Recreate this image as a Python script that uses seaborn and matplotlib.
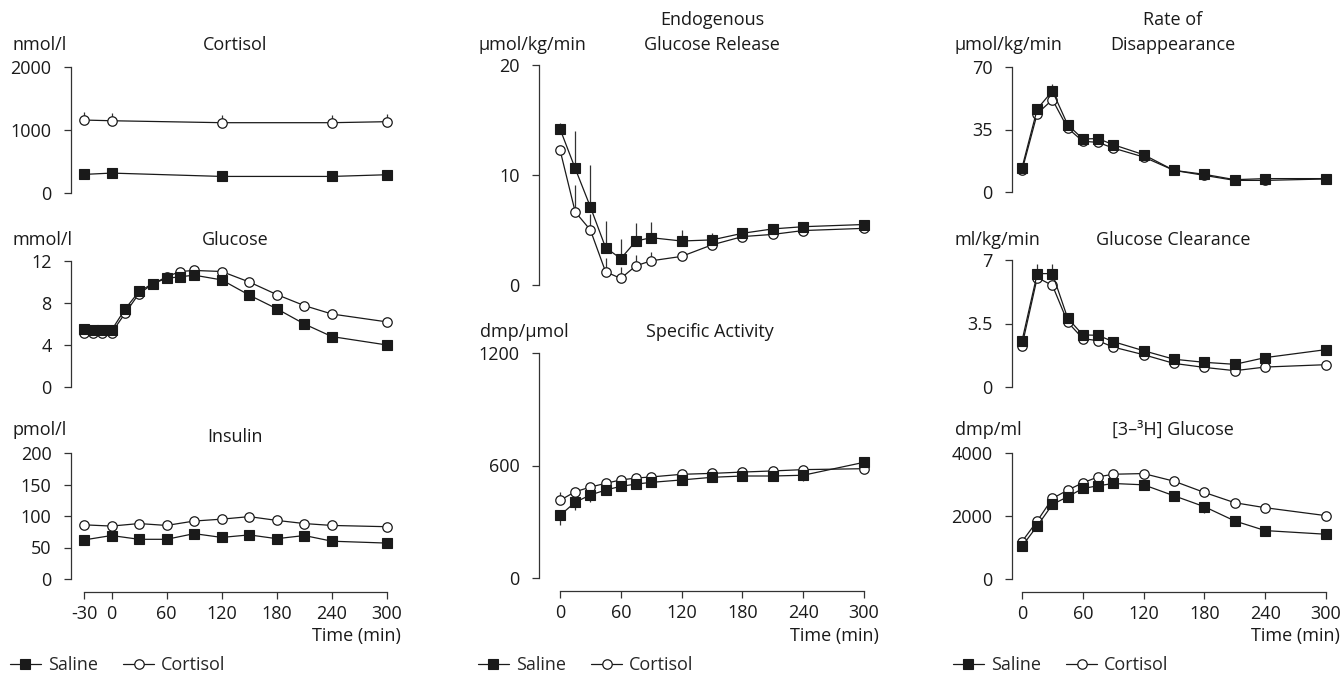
import numpy as np
import pandas as pd
import matplotlib
matplotlib.use("Agg")
import matplotlib.pyplot as plt
import seaborn as sns

# ---- data -------------------------------------------------------------
cort_t = [-30, 0, 120, 240, 300]
cort_sal = [295, 316, 263, 263, 290]
cort_cor = [1158, 1147, 1116, 1116, 1132]
cort_cor_se = [130, 130, 120, 120, 120]

gluc_t = [-30, -20, -10, 0, 15, 30, 45, 60, 75, 90, 120, 150, 180, 210, 240, 300]
gluc_sal = [5.55, 5.4, 5.4, 5.4, 7.45, 9.1, 9.85, 10.35, 10.5, 10.65, 10.2, 8.75, 7.45, 6.0, 4.8, 4.0]
gluc_cor = [5.15, 5.15, 5.15, 5.15, 7.05, 8.9, 9.8, 10.5, 11.0, 11.1, 11.0, 10.0, 8.8, 7.75, 6.95, 6.2]

ins_t = [-30, 0, 30, 60, 90, 120, 150, 180, 210, 240, 300]
ins_sal = [62, 69, 63, 63, 72, 66, 70, 64, 69, 60, 57]
ins_cor = [86, 84, 88, 85, 92, 95, 99, 93, 88, 85, 83]

tt = [0, 15, 30, 45, 60, 75, 90, 120, 150, 180, 210, 240, 300]

egr_sal = [14.2, 10.6, 7.1, 3.4, 2.4, 4.0, 4.3, 4.0, 4.1, 4.7, 5.1, 5.3, 5.5]
egr_sal_se = [0.55, 3.4, 3.8, 2.4, 1.8, 1.6, 1.4, 1.0, 0.6, 0.45, 0.3, 0.2, 0.1]
egr_cor = [12.3, 6.65, 5.0, 1.2, 0.6, 1.75, 2.2, 2.6, 3.65, 4.4, 4.6, 4.95, 5.15]
egr_cor_se = [0.3, 2.45, 1.5, 1.3, 1.0, 1.0, 0.8, 0.3, 0.2, 0.1, 0.1, 0.1, 0.1]

sa_sal = [334, 404, 443, 469, 489, 501, 510, 523, 537, 544, 544, 548, 617]
sa_sal_se = [50, 40, 39, 25, 20, 15, 15, 15, 20, 20, 20, 30, 0]
sa_cor = [414, 460, 485, 505, 523, 533, 539, 553, 558, 565, 571, 578, 583]
sa_cor_se = [43, 0, 0, 0, 0, 0, 0, 0, 0, 0, 0, 0, 0]

rd_sal = [13.6, 46.5, 56.6, 37.7, 29.7, 29.9, 26.5, 20.9, 12.1, 9.9, 6.9, 7.5, 7.5]
rd_sal_se = [0, 2.5, 4.0, 0, 0, 0, 0, 0, 0, 0, 0, 0, 0]
rd_cor = [12.1, 43.9, 51.7, 35.8, 28.4, 27.8, 24.6, 19.6, 12.1, 9.3, 6.5, 6.5, 7.3]

gc_sal = [2.55, 6.25, 6.25, 3.8, 2.87, 2.85, 2.5, 2.0, 1.53, 1.36, 1.25, 1.62, 2.06]
gc_sal_se = [0, 0.55, 0.55, 0, 0, 0, 0, 0, 0, 0, 0, 0, 0]
gc_cor = [2.28, 6.03, 5.6, 3.58, 2.67, 2.55, 2.2, 1.78, 1.3, 1.08, 0.9, 1.1, 1.23]

h3_sal = [1042, 1684, 2368, 2610, 2874, 2958, 3032, 2990, 2642, 2295, 1842, 1537, 1421]
h3_sal_se = [0, 120, 150, 0, 120, 150, 150, 120, 150, 200, 150, 120, 0]
h3_cor = [1189, 1842, 2558, 2821, 3053, 3242, 3326, 3347, 3105, 2747, 2421, 2263, 2011]

# ---- style ------------------------------------------------------------
sns.set_theme(style="ticks")
plt.rcParams["font.family"] = ["Open Sans", "DejaVu Sans"]
FS = 13
plt.rcParams["font.size"] = FS
INK = "#1a1a1a"

W, H = 1344, 677
fig = plt.figure(figsize=(W / 100, H / 100), dpi=100)


def add_ax(l, r, top, bot, xlim, ylim):
    ax = fig.add_axes([l / W, 1 - bot / H, (r - l) / W, (bot - top) / H])
    ax.set_xlim(*xlim)
    ax.set_ylim(*ylim)
    ax.patch.set_alpha(0)
    for s in ["top", "right", "bottom"]:
        ax.spines[s].set_visible(False)
    ax.spines["left"].set_bounds(*ylim)
    ax.spines["left"].set_color("#333333")
    ax.spines["left"].set_linewidth(0.9)
    ax.tick_params(axis="y", length=5, width=0.9, color="#333333", pad=9,
                   labelsize=FS, labelcolor=INK)
    ax.set_xticks([])
    return ax


def series(ax, t, y, kind, se=None, direction=1):
    df = pd.DataFrame({"t": t, "y": y})
    if kind == "sal":
        kw = dict(marker="s", markersize=6.5, markerfacecolor=INK,
                  markeredgecolor=INK, markeredgewidth=0.8, zorder=4)
    else:
        kw = dict(marker="o", markersize=6.8, markerfacecolor="white",
                  markeredgecolor=INK, markeredgewidth=0.9, zorder=3)
    if se is not None:
        yy = np.array(y, dtype=float)
        ee = np.array(se, dtype=float)
        m = ee > 0
        ax.vlines(np.array(t)[m], yy[m], yy[m] + direction * ee[m],
                  color="#333333", lw=0.9, zorder=2, clip_on=False)
    sns.lineplot(data=df, x="t", y="y", ax=ax, color=INK, lw=0.9,
                 errorbar=None, sort=False, clip_on=False, **kw)
    ax.set_xlabel("")
    ax.set_ylabel("")


def xaxis(ax, ticks, lo):
    ax.spines["bottom"].set_visible(True)
    ax.spines["bottom"].set_position(("outward", 9))
    ax.spines["bottom"].set_bounds(lo, 300)
    ax.spines["bottom"].set_color("#333333")
    ax.spines["bottom"].set_linewidth(0.9)
    ax.set_xticks(ticks)
    ax.set_xticklabels([str(v) for v in ticks])
    ax.tick_params(axis="x", length=5, width=0.9, color="#333333", pad=4.5,
                   labelsize=FS, labelcolor=INK, bottom=True)


def label(x, y, s, ha="left"):
    fig.text(x / W, 1 - y / H, s, ha=ha, va="center", fontsize=FS, color=INK)


# ---- left column ------------------------------------------------------
LX = (-44.1, 305.4)
ax = add_ax(71, 392, 67, 193, LX, (0, 2000))
series(ax, cort_t, cort_cor, "cor", cort_cor_se, 1)
series(ax, cort_t, cort_sal, "sal")
ax.set_yticks([0, 1000, 2000])
label(12, 45, "nmol/l")
label(235, 45, "Cortisol", "center")

ax = add_ax(71, 392, 261, 387, LX, (0, 12))
series(ax, gluc_t, gluc_cor, "cor")
series(ax, gluc_t, gluc_sal, "sal")
ax.set_yticks([0, 4, 8, 12])
label(12, 240, "mmol/l")
label(235, 240, "Glucose", "center")

ax = add_ax(71, 392, 453, 579, LX, (0, 200))
series(ax, ins_t, ins_cor, "cor")
series(ax, ins_t, ins_sal, "sal")
ax.set_yticks([0, 50, 100, 150, 200])
xaxis(ax, [-30, 0, 60, 120, 180, 240, 300], -30)
label(12, 430, "pmol/l")
label(235, 437, "Insulin", "center")
label(401, 636, "Time (min)", "right")
left_bottom = ax

# ---- middle column ----------------------------------------------------
MX = (-20.7, 304.9)
ax = add_ax(539, 869, 65, 285, MX, (0, 20))
series(ax, tt, egr_cor, "cor", egr_cor_se, 1)
series(ax, tt, egr_sal, "sal", egr_sal_se, 1)
ax.set_yticks([0, 10, 20])
label(479, 45, "µmol/kg/min")
label(712, 20, "Endogenous", "center")
label(712, 45, "Glucose Release", "center")

ax = add_ax(539, 869, 353, 578, MX, (0, 1200))
series(ax, tt, sa_cor, "cor", sa_cor_se, 1)
series(ax, tt, sa_sal, "sal", sa_sal_se, -1)
ax.set_yticks([0, 600, 1200])
xaxis(ax, [0, 60, 120, 180, 240, 300], 0)
label(480, 332, "dmp/µmol")
label(710, 332, "Specific Activity", "center")
label(879, 636, "Time (min)", "right")
mid_bottom = ax

# ---- right column -----------------------------------------------------
RX = (-9.9, 304.9)
ax = add_ax(1012, 1331, 67, 192, RX, (0, 70))
series(ax, tt, rd_cor, "cor")
series(ax, tt, rd_sal, "sal", rd_sal_se, 1)
ax.set_yticks([0, 35, 70])
label(955, 45, "µmol/kg/min")
label(1173, 20, "Rate of", "center")
label(1173, 45, "Disappearance", "center")

ax = add_ax(1012, 1331, 260, 387, RX, (0, 7))
series(ax, tt, gc_cor, "cor")
series(ax, tt, gc_sal, "sal", gc_sal_se, 1)
ax.set_yticks([0, 3.5, 7])
ax.set_yticklabels(["0", "3.5", "7"])
label(955, 240, "ml/kg/min")
label(1173, 240, "Glucose Clearance", "center")

ax = add_ax(1012, 1331, 453, 579, RX, (0, 4000))
series(ax, tt, h3_cor, "cor")
series(ax, tt, h3_sal, "sal", h3_sal_se, -1)
ax.set_yticks([0, 2000, 4000])
xaxis(ax, [0, 60, 120, 180, 240, 300], 0)
label(955, 430, "dmp/ml")
label(1173, 430, "[3–³H] Glucose", "center")
label(1340, 636, "Time (min)", "right")
right_bottom = ax

# ---- legends ----------------------------------------------------------
for a, x0 in [(left_bottom, 10), (mid_bottom, 478), (right_bottom, 953)]:
    lines = a.get_lines()
    handles = [lines[1], lines[0]]
    a.legend(handles, ["Saline", "Cortisol"], loc="center left",
             bbox_to_anchor=(x0 / W, 1 - 665 / H),
             bbox_transform=fig.transFigure, ncol=2, frameon=False,
             handlelength=1.7, handletextpad=0.4, columnspacing=1.4,
             borderaxespad=0, borderpad=0, fontsize=FS)

fig.savefig("out.png", dpi=100)
